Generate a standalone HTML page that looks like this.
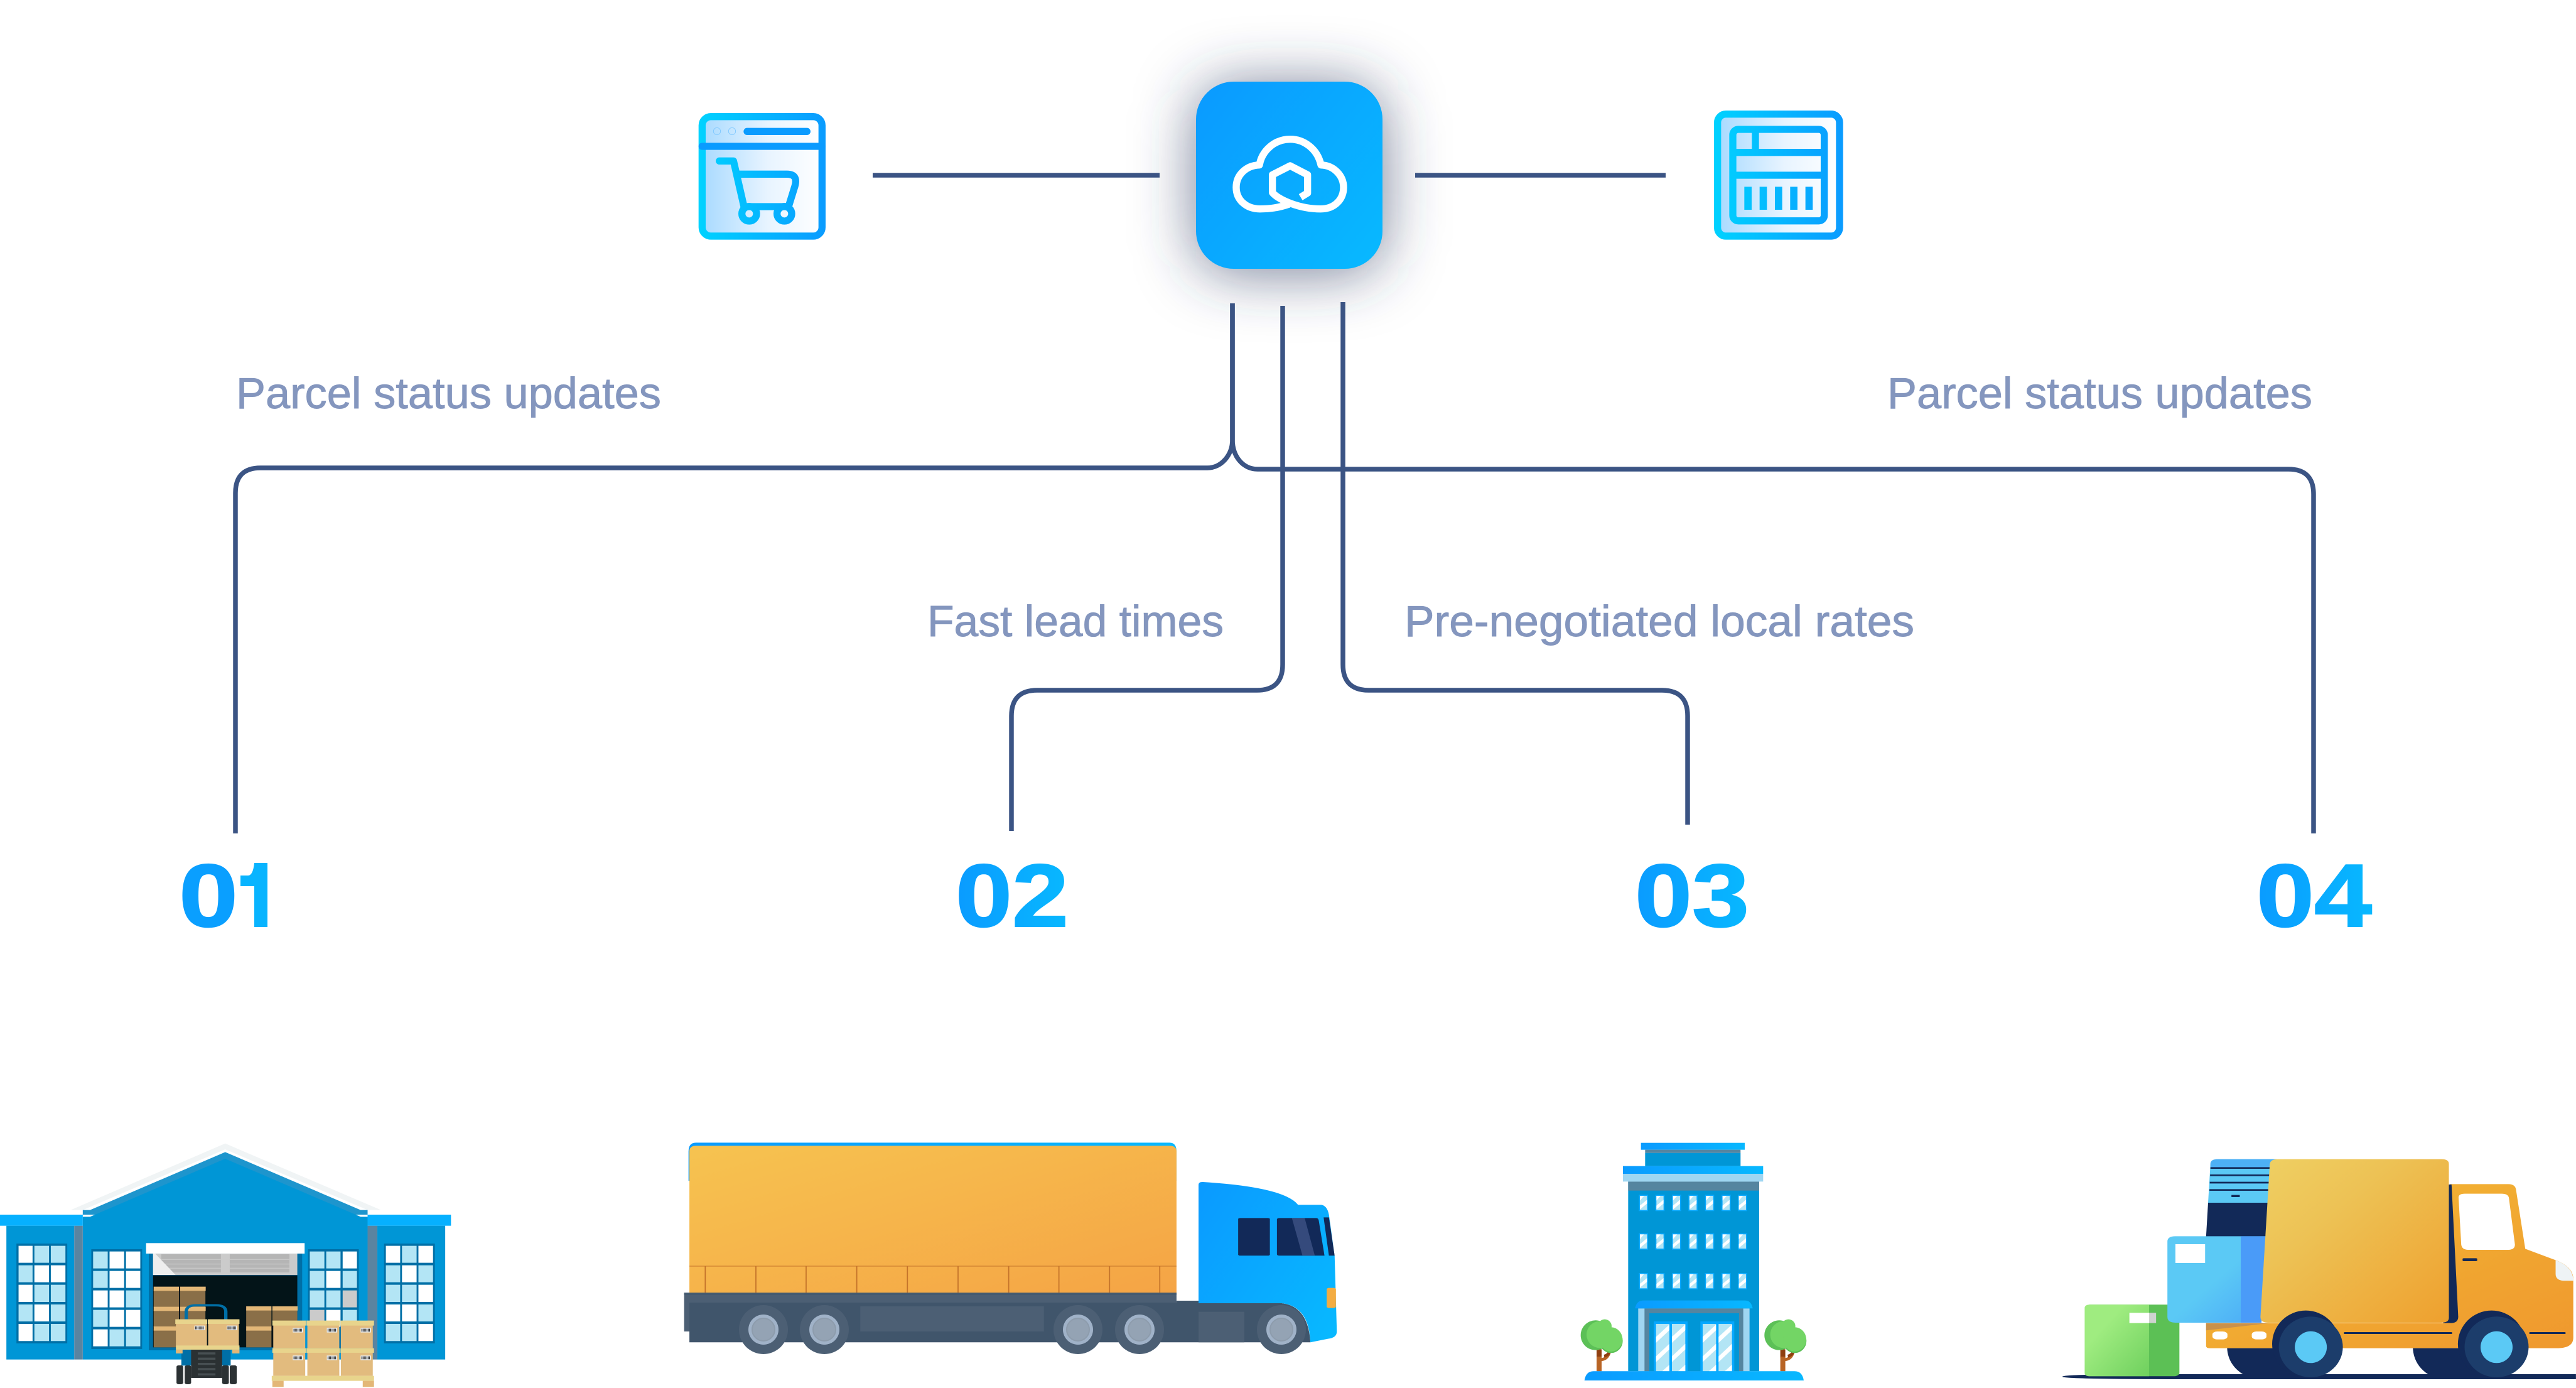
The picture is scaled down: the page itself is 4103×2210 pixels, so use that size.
<!DOCTYPE html>
<html lang="en"><head><meta charset="utf-8"><title>Parcel logistics diagram</title>
<style>
html,body{margin:0;padding:0;background:#fff;width:4103px;height:2210px;overflow:hidden}
svg{position:absolute;left:0;top:0}
text{font-family:"Liberation Sans",sans-serif}
</style></head><body>
<svg width="4103" height="2210" viewBox="0 0 4103 2210" xmlns="http://www.w3.org/2000/svg">
<defs>
<filter id="glow" filterUnits="userSpaceOnUse" x="1600" y="-200" width="900" height="950"><feGaussianBlur stdDeviation="48"/></filter>
<clipPath id="stem"><rect x="405" y="1360" width="21" height="130"/></clipPath>
<linearGradient id="bl"><stop offset="0" stop-color="#0a9bff"/><stop offset="1" stop-color="#08b8ff"/></linearGradient>
<linearGradient id="hub" x1="0" y1="0.1" x2="1" y2="0.9"><stop offset="0" stop-color="#0a9bff"/><stop offset="1" stop-color="#08b8ff"/></linearGradient>
<linearGradient id="ic1" gradientUnits="userSpaceOnUse" x1="70" y1="0" x2="675" y2="0"><stop offset="0" stop-color="#00d2ff"/><stop offset="1" stop-color="#0a9bff"/></linearGradient>
<linearGradient id="ic2" gradientUnits="userSpaceOnUse" x1="60" y1="0" x2="677" y2="0"><stop offset="0" stop-color="#00d2ff"/><stop offset="1" stop-color="#0a9bff"/></linearGradient>
<linearGradient id="icf"><stop offset="0" stop-color="#a8daff"/><stop offset=".55" stop-color="#e8f4ff"/><stop offset="1" stop-color="#fff"/></linearGradient>
<linearGradient id="cargo" x1="0" y1="0" x2="1" y2="1"><stop offset="0" stop-color="#f6c350"/><stop offset="1" stop-color="#f5a445"/></linearGradient>
<linearGradient id="vc" x1="0" y1="0" x2="1" y2="1"><stop offset="0" stop-color="#efd063"/><stop offset=".35" stop-color="#edc255"/><stop offset="1" stop-color="#eea02e"/></linearGradient>
<linearGradient id="vb" x1="0" y1="0" x2="1" y2="1"><stop offset="0" stop-color="#f3bb35"/><stop offset="1" stop-color="#ef982e"/></linearGradient>
<linearGradient id="bb" x1="0" y1="0" x2="1" y2="1"><stop offset=".5" stop-color="#5bc9f5"/><stop offset="1" stop-color="#4aa8f7"/></linearGradient>
<linearGradient id="gb" x1="0" y1="0" x2="1" y2="1"><stop offset=".3" stop-color="#9fec80"/><stop offset="1" stop-color="#6fd05e"/></linearGradient>
<g id="bw"><rect width="44" height="78" fill="#06a8ff"/><rect x="5" y="5" width="34" height="68" fill="#b3e5f5"/><polygon points="5,5 25,5 5,28" fill="#fff"/><polygon points="39,24 39,42 5,70 5,52" fill="#fff"/></g>
<g id="dp"><rect width="64" height="226" fill="#b3e5f5"/><polygon points="0,62 64,3 64,30 0,90" fill="#fff"/><polygon points="0,155 64,95 64,122 0,182" fill="#fff"/><polygon points="30,226 64,195 64,226" fill="#fff"/></g>
<g id="bc"><rect width="34" height="22" fill="#e8ecf0"/><path d="M4,4v14M8,4v14M12,4v14M17,4v14M21,4v14M25,4v14M29,4v14" stroke="#333" stroke-width="2.4"/></g>
<g id="tree"><rect x="189" y="1075" width="24" height="40" fill="#8f3f10"/><rect x="189" y="1110" width="24" height="70" fill="#b86425"/><path d="M205,1125 Q240,1125 250,1090" fill="none" stroke="#b86425" stroke-width="14"/><path d="M225,1108 Q240,1105 250,1090" fill="none" stroke="#8f3f10" stroke-width="14"/><ellipse cx="184" cy="1008" rx="71" ry="71" fill="#5cc057"/><ellipse cx="258" cy="1035" rx="56" ry="58" fill="#5cc057"/><circle cx="205" cy="1005" r="64" fill="#73d565"/><circle cx="228" cy="965" r="33" fill="#73d565"/><ellipse cx="258" cy="1028" rx="55" ry="58" fill="#73d565"/></g>
</defs>

<!-- hub -->
<rect x="1905" y="136" width="297" height="298" rx="60" fill="#323c64" fill-opacity=".66" filter="url(#glow)"/>
<rect x="1905" y="130" width="297" height="298" rx="60" fill="url(#hub)"/>
<g transform="translate(1930,190) scale(.3333)" fill="none" stroke="#fff" stroke-width="34" stroke-linejoin="round">
<path d="M425,372 L458,352 L458,265 L375,222 L290,265 L290,350 C320,385 420,428 520,428 C590,428 630,380 630,325 C630,270 585,220 522,218 C505,140 440,95 375,95 C300,95 240,150 228,218 C165,220 117,265 117,325 C117,385 165,428 230,428 C280,428 320,422 370,405"/>
</g>

<!-- connector lines -->
<g fill="none" stroke="#3b5484" stroke-width="7.5">
<path d="M1390,279H1847" />
<path d="M2254,279H2653" />
<path d="M1963,483V700C1963,725 1945,745 1923,745H415Q375,745 375,785V1327"/>
<path d="M1963,483V700C1963,727 1980,747 2003,747H3645Q3685,747 3685,787V1327"/>
<path d="M2043,487V1058Q2043,1099 2002,1099H1652Q1611,1099 1611,1140V1323"/>
<path d="M2139,481V1058Q2139,1099 2180,1099H2647Q2688,1099 2688,1140V1313"/>
</g>

<!-- labels -->
<g font-size="70" fill="#8496be" stroke="#8496be" stroke-width=".9">
<text x="376" y="650" textLength="677" lengthAdjust="spacingAndGlyphs">Parcel status updates</text>
<text x="3006" y="650" textLength="677" lengthAdjust="spacingAndGlyphs">Parcel status updates</text>
<text x="1477" y="1013" textLength="472" lengthAdjust="spacingAndGlyphs">Fast lead times</text>
<text x="2237" y="1013" textLength="812" lengthAdjust="spacingAndGlyphs">Pre-negotiated local rates</text>
</g>
<g font-size="142" font-weight="700" fill="url(#bl)" stroke="url(#bl)" stroke-width="2">
<text x="285" y="1475" fill="#0a9fff" stroke="#0a9fff" textLength="94" lengthAdjust="spacingAndGlyphs">0</text>
<text x="359" y="1475" fill="#08b8ff" stroke="#08b8ff" clip-path="url(#stem)">1</text>
<text x="1522" y="1475" textLength="180" lengthAdjust="spacingAndGlyphs">02</text>
<text x="2604" y="1475" textLength="182" lengthAdjust="spacingAndGlyphs">03</text>
<text x="3594" y="1475" textLength="184" lengthAdjust="spacingAndGlyphs">04</text>
</g>
<path d="M405,1374H426V1476H405ZM383,1394H395Q403,1394 405,1374V1411H383Z" fill="#08b4ff"/>

<!-- left icon -->
<g transform="translate(1090,160) scale(.3333)">
<rect x="85" y="77" width="573" height="571" rx="42" fill="url(#icf)" stroke="url(#ic1)" stroke-width="34"/>
<path d="M85,219H658" stroke="#0a9bff" stroke-width="34" stroke-linecap="round"/>
<path d="M300,148H586" stroke="#0a9bff" stroke-width="34" stroke-linecap="round"/>
<circle cx="156" cy="147" r="17" fill="none" stroke="#7cc7ff" stroke-width="2.5"/>
<circle cx="228" cy="147" r="17" fill="none" stroke="#7cc7ff" stroke-width="2.5"/>
<g fill="none" stroke="url(#ic1)" stroke-width="34" stroke-linecap="round" stroke-linejoin="round">
<path d="M167,289H235L285,507H498L528,410Q545,352 490,352H250"/>
<circle cx="310" cy="541" r="35"/>
<circle cx="478" cy="541" r="35"/>
</g>
</g>

<!-- right icon -->
<g transform="translate(2710,160) scale(.3333)">
<rect x="77" y="65" width="583" height="583" rx="40" fill="url(#icf)" stroke="url(#ic2)" stroke-width="34"/>
<g fill="none" stroke="url(#ic2)" stroke-width="34">
<rect x="150" y="138" width="437" height="437" rx="26"/>
<path d="M150,248H587M150,357H587M258,138V248"/>
</g>
<path d="M205,412h35v110h-35zM278,412h35v110h-35zM351,412h35v110h-35zM424,412h35v110h-35zM497,412h35v110h-35z" fill="url(#ic2)"/>
</g>

<!-- warehouse -->
<g transform="translate(0,1780) scale(.4847,.3333)">
<polygon points="232,440 740,122 1252,440" fill="#f0f4f5"/>
<polygon points="272,440 740,150 1208,440" fill="#fff"/>
<polygon points="272,462 272,440 296,440 740,163 1185,440 1208,440 1208,462" fill="#1e95cd"/>
<polygon points="272,472 296,472 740,195 1185,472 1208,472 1208,1154 272,1154" fill="#0096d6"/>
<rect x="21" y="515" width="223" height="639" fill="#0096d6"/><rect x="1240" y="515" width="223" height="639" fill="#0096d6"/>
<rect x="244" y="515" width="28" height="639" fill="#5a84a0"/><rect x="1208" y="515" width="32" height="639" fill="#5a84a0"/>
<rect x="0" y="462" width="272" height="53" fill="#06b0ff"/><rect x="1208" y="462" width="274" height="53" fill="#06b0ff"/>
<!-- window frames -->
<g fill="#006fa6"><rect x="54" y="600" width="167" height="477"/><rect x="300" y="627" width="167" height="477"/><rect x="1012" y="627" width="167" height="477"/><rect x="1262" y="600" width="167" height="477"/></g>
<!-- panes: white -->
<g fill="#fff">
<path d="M61,611h46v81h-46zM113,704h48v81h-48zM167,704h48v81h-48zM61,797h46v82h-46zM113,891h48v81h-48zM61,984h46v82h-46z"/>
<path d="M360,638h48v81h-48zM414,638h47v81h-47zM360,731h48v81h-48zM414,731h47v81h-47zM306,824h48v81h-48zM360,824h48v81h-48zM360,917h48v81h-48zM414,917h47v81h-47zM306,1010h48v81h-48z"/>
<path d="M1126,638h47v81h-47zM1072,731h47v81h-47zM1072,917h47v81h-47z"/>
<path d="M1268,611h47v81h-47zM1375,611h48v81h-48zM1321,704h48v81h-48zM1375,797h48v82h-48zM1268,891h47v81h-47zM1321,891h48v81h-48zM1375,984h48v82h-48z"/>
</g>
<g fill="#b3e5f5">
<path d="M113,611h48v81h-48zM167,611h48v81h-48zM61,704h46v81h-46zM113,797h48v82h-48zM167,797h48v82h-48zM61,891h46v81h-46zM167,891h48v81h-48zM113,984h48v82h-48zM167,984h48v82h-48z"/>
<path d="M306,638h48v81h-48zM306,731h48v81h-48zM414,824h47v81h-47zM306,917h48v81h-48zM360,1010h48v81h-48zM414,1010h47v81h-47z"/>
<path d="M1018,638h48v81h-48zM1072,638h47v81h-47zM1018,731h48v81h-48zM1126,731h47v81h-47zM1018,824h48v81h-48zM1072,824h47v81h-47zM1126,917h47v81h-47z"/>
<path d="M1321,611h48v81h-48zM1268,704h47v81h-47zM1375,704h48v81h-48zM1268,797h47v82h-47zM1321,797h48v82h-48zM1375,891h48v81h-48zM1268,984h47v82h-47zM1321,984h48v82h-48z"/>
</g>
<path d="M1126,824h47v81h-47zM1018,917h48v81h-48z" fill="#cbcbcb"/>
<!-- door -->
<rect x="489" y="640" width="504" height="470" fill="#006fa6"/>
<rect x="503" y="752" width="474" height="344" fill="#031418"/>
<rect x="503" y="648" width="474" height="102" fill="#cbcbcb"/>
<path d="M530,651h196v87h-196zM755,651h196v87h-196z" fill="#b5b5b5"/>
<path d="M530,676h196M530,698h196M530,718h196M755,676h196M755,698h196M755,718h196" stroke="#c8c8c8" stroke-width="4"/>
<polygon points="503,648 510,648 577,750 503,750" fill="#eeeeee"/>
<rect x="480" y="598" width="521" height="50" fill="#fff"/>
<!-- boxes in door -->
<g fill="#8a6f48"><rect x="505" y="820" width="83" height="84"/><rect x="592" y="820" width="83" height="84"/><rect x="505" y="916" width="83" height="84"/><rect x="592" y="916" width="83" height="50"/><rect x="505" y="1010" width="83" height="86"/><rect x="809" y="915" width="83" height="84"/><rect x="895" y="915" width="82" height="60"/><rect x="809" y="1010" width="83" height="86"/></g>
<g fill="#e3b777"><rect x="505" y="806" width="83" height="20"/><rect x="592" y="806" width="84" height="20"/><rect x="505" y="902" width="83" height="20"/><rect x="592" y="902" width="84" height="20"/><rect x="505" y="996" width="83" height="20"/><rect x="809" y="900" width="83" height="20"/><rect x="895" y="900" width="83" height="20"/><rect x="809" y="996" width="83" height="20"/></g>
<!-- forklift -->
<path d="M612,965V925Q612,895 645,895H710Q742,895 742,925V965" fill="none" stroke="#006fa6" stroke-width="11"/>
<rect x="596" y="1105" width="162" height="78" fill="#006fa6"/>
<g fill="#2b3133"><rect x="628" y="1107" width="102" height="135"/><rect x="580" y="1182" width="22" height="90" rx="7"/><rect x="607" y="1182" width="21" height="90" rx="7"/><rect x="730" y="1182" width="22" height="90" rx="7"/><rect x="755" y="1182" width="23" height="90" rx="7"/></g>
<path d="M650,1125h58M650,1150h58M650,1175h58M650,1200h58M650,1225h58" stroke="#474f52" stroke-width="10"/>
<g fill="#e2bb7e"><rect x="578" y="962" width="102" height="126"/><rect x="684" y="962" width="101" height="126"/></g>
<g fill="#e8d48c"><rect x="576" y="962" width="105" height="22"/><rect x="683" y="962" width="104" height="22"/><rect x="578" y="1087" width="209" height="20"/></g>
<path d="M578,1107h22v18h-22zM763,1107h24v18h-24z" fill="#e3b777"/>
<use href="#bc" transform="translate(639,992)"/><use href="#bc" transform="translate(745,992)"/>
<!-- pallet -->
<g fill="#e2bb7e"><rect x="898" y="985" width="105" height="115"/><rect x="1010" y="985" width="105" height="115"/><rect x="1120" y="985" width="105" height="115"/><rect x="898" y="1115" width="105" height="117"/><rect x="1010" y="1115" width="105" height="117"/><rect x="1120" y="1115" width="105" height="117"/></g>
<g fill="#e8d48c"><rect x="895" y="968" width="110" height="24"/><rect x="1007" y="968" width="110" height="24"/><rect x="1119" y="968" width="110" height="24"/><rect x="895" y="1100" width="110" height="22"/><rect x="1007" y="1100" width="110" height="22"/><rect x="1119" y="1100" width="110" height="22"/><rect x="893" y="1232" width="336" height="24"/></g>
<path d="M895,1256h37v29h-37zM1192,1256h37v29h-37z" fill="#e3b777"/>
<use href="#bc" transform="translate(962,1003)"/><use href="#bc" transform="translate(1074,1003)"/><use href="#bc" transform="translate(1185,1003)"/><use href="#bc" transform="translate(962,1135)"/><use href="#bc" transform="translate(1074,1135)"/><use href="#bc" transform="translate(1185,1135)"/>
</g>

<!-- truck -->
<g transform="translate(1070,1780) scale(.7015,.3333)">
<path d="M38,160Q38,118 55,118H1130Q1146,118 1146,160V300H38Z" fill="url(#bl)"/>
<path d="M40,160Q40,133 55,133H1130Q1146,133 1146,160V836H40Z" fill="url(#cargo)"/>
<path d="M40,708H1146" stroke="#c4732a" stroke-width="3"/>
<path d="M76,708V835M191,708V835M305,708V835M420,708V835M535,708V835M650,708V835M765,708V835M879,708V835M994,708V835M1108,708V835" stroke="#c4732a" stroke-width="2.5"/>
<rect x="28" y="835" width="1118" height="185" fill="#4c5f74"/>
<rect x="28" y="835" width="1118" height="11" fill="#445a70"/>
<path d="M40,882H1146V873H1200V885H1385Q1445,900 1450,1072H40Z" fill="#40556b"/>
<rect x="428" y="900" width="417" height="120" fill="#4c5f74"/>
<rect x="1196" y="926" width="104" height="146" fill="#4c5f74"/>
<path d="M1196,320Q1196,305 1206,306Q1390,330 1422,415H1475Q1490,420 1493,475L1505,660L1510,1020Q1510,1050 1490,1055L1450,1072Q1447,900 1385,885H1196Z" fill="url(#hub)"/>
<rect x="1286" y="478" width="72" height="180" rx="5" fill="#122958"/>
<path d="M1380,478H1463Q1468,478 1469,490L1482,658H1380Q1374,658 1374,650V485Q1374,478 1380,478Z" fill="#122958"/>
<polygon points="1408,478 1437,478 1460,658 1432,658" fill="#354a7c"/>
<polygon points="1480,475 1492,475 1505,658 1492,658" fill="#122958"/>
<rect x="1487" y="812" width="21" height="96" rx="6" fill="#f3ac42"/>
</g>
<g>
<!-- truck wheels in real coords -->
<g transform="translate(1216,2117)"><circle r="39" fill="#4c5f74"/><circle r="24" fill="#a0b2c8"/><circle r="18" fill="#94a3b4" stroke="#8d9cac" stroke-width="2"/></g>
<g transform="translate(1313,2117)"><circle r="39" fill="#4c5f74"/><circle r="24" fill="#a0b2c8"/><circle r="18" fill="#94a3b4" stroke="#8d9cac" stroke-width="2"/></g>
<g transform="translate(1717,2117)"><circle r="39" fill="#4c5f74"/><circle r="24" fill="#a0b2c8"/><circle r="18" fill="#94a3b4" stroke="#8d9cac" stroke-width="2"/></g>
<g transform="translate(1815,2117)"><circle r="39" fill="#4c5f74"/><circle r="24" fill="#a0b2c8"/><circle r="18" fill="#94a3b4" stroke="#8d9cac" stroke-width="2"/></g>
<g transform="translate(2041,2117)"><circle r="39" fill="#4c5f74"/><circle r="24" fill="#a0b2c8"/><circle r="18" fill="#94a3b4" stroke="#8d9cac" stroke-width="2"/></g>
</g>

<!-- building -->
<g transform="translate(2480,1790) scale(.3333)">
<rect x="401" y="89" width="496" height="33" fill="url(#bl)"/>
<rect x="421" y="137" width="456" height="63" fill="#0096d6"/><rect x="421" y="122" width="456" height="15" fill="#5585a0"/>
<use href="#tree"/><use href="#tree" transform="translate(878,0)"/>
<rect x="340" y="274" width="626" height="906" fill="#0096d6"/><rect x="340" y="274" width="626" height="43" fill="#5585a0"/>
<rect x="315" y="200" width="670" height="37" fill="url(#bl)"/><rect x="315" y="237" width="670" height="37" fill="#9fd6f2"/>
<use href="#bw" x="391" y="337"/><use href="#bw" x="470" y="337"/><use href="#bw" x="549" y="337"/><use href="#bw" x="628" y="337"/><use href="#bw" x="707" y="337"/><use href="#bw" x="786" y="337"/><use href="#bw" x="864" y="337"/>
<use href="#bw" x="391" y="521"/><use href="#bw" x="470" y="521"/><use href="#bw" x="549" y="521"/><use href="#bw" x="628" y="521"/><use href="#bw" x="707" y="521"/><use href="#bw" x="786" y="521"/><use href="#bw" x="864" y="521"/>
<use href="#bw" x="391" y="711"/><use href="#bw" x="470" y="711"/><use href="#bw" x="549" y="711"/><use href="#bw" x="628" y="711"/><use href="#bw" x="707" y="711"/><use href="#bw" x="786" y="711"/><use href="#bw" x="864" y="711"/>
<rect x="388" y="880" width="532" height="300" fill="#9fd6f2"/>
<rect x="418" y="880" width="472" height="300" fill="#5585a0"/>
<rect x="441" y="903" width="429" height="277" fill="#0096d6"/>
<rect x="462" y="942" width="162" height="238" fill="#06a8ff"/><rect x="685" y="942" width="162" height="238" fill="#06a8ff"/>
<use href="#dp" x="473" y="954"/><use href="#dp" x="549" y="954"/><use href="#dp" x="696" y="954"/><use href="#dp" x="772" y="954"/>
<path d="M373,880Q380,842 412,842H898Q928,842 935,880Z" fill="url(#bl)"/>
<path d="M131,1224Q138,1180 175,1180H1135Q1172,1180 1179,1224Z" fill="url(#bl)"/>
</g>

<!-- van -->
<g transform="translate(3270,1810) scale(.5312,.3333)">
<path d="M28,1146Q28,1132 400,1134H1568V1158H400Q28,1158 28,1146Z" fill="#122958"/>
<path d="M472,130Q472,107 495,107H670L645,315H465Z" fill="#5bc9f5"/>
<path d="M472,145V130Q472,107 495,107H670L665,145Z" fill="#4db0f5"/>
<path d="M472,145h180v8h-180zM471,180h180v8h-180zM470,215h180v8h-180zM469,250h180v8h-180zM535,278h25v10h-25z" fill="#122958"/>
<polygon points="465,315 650,315 640,476 459,476" fill="#122958"/>
<rect x="95" y="802" width="284" height="342" rx="16" fill="#5cc055"/>
<path d="M288,802H111Q95,802 95,818V1128Q95,1144 111,1144H288Z" fill="url(#gb)"/>
<rect x="229" y="841" width="59" height="49" fill="#fff"/><rect x="288" y="841" width="21" height="49" fill="#cfd3cf"/>
<path d="M1190,226H1365Q1385,226 1388,250L1416,535L1505,588Q1560,620 1560,680V960Q1560,1010 1510,1010H470Q459,1010 459,1000V890H1190Z" fill="url(#vb)"/>
<path d="M1216,290Q1216,272 1235,272H1345Q1365,272 1367,292L1385,515Q1385,540 1365,540H1245Q1226,540 1224,515Z" fill="#fff"/>
<rect x="1228" y="580" width="44" height="14" rx="4" fill="#122958"/>
<path d="M1507,590Q1560,620 1560,688H1535Q1507,688 1507,655Z" fill="#eef3f5"/>
<path d="M1187,228H1195L1215,860Q1215,888 1195,890H1170Z" fill="#122958"/>
<polygon points="459,890 650,890 459,925" fill="#c9914a"/>
<rect x="478" y="930" width="45" height="38" rx="14" fill="#fff"/><rect x="596" y="930" width="44" height="38" rx="14" fill="#fff"/>
<rect x="872" y="933" width="325" height="9" rx="3" fill="#122958"/><rect x="1428" y="933" width="109" height="9" rx="3" fill="#122958"/>
<path d="M367,475H640L620,888H367Q343,888 343,860V500Q343,475 367,475Z" fill="url(#bb)"/>
<polygon points="563,475 640,475 625,888 563,888" fill="#4a9bf8"/>
<rect x="367" y="513" width="89" height="90" fill="#fff"/>
<path d="M650,130Q652,107 675,107H1165Q1187,107 1187,130V865Q1187,888 1164,888H645Q622,888 622,860Z" fill="url(#vc)"/>
<path d="M522,1010Q525,1090 570,1135H760V1010ZM1079,1010Q1082,1090 1125,1135H1320V1010Z" fill="#122958"/>
<ellipse cx="758" cy="990" rx="101" ry="160" fill="#122958"/><ellipse cx="1315" cy="990" rx="101" ry="160" fill="#122958"/>
<ellipse cx="773" cy="1004" rx="96" ry="145" fill="#1c3d6b"/><ellipse cx="1330" cy="1004" rx="96" ry="145" fill="#1c3d6b"/>
<ellipse cx="773" cy="1005" rx="48" ry="76" fill="#5bc9f5"/><ellipse cx="1330" cy="1005" rx="48" ry="76" fill="#5bc9f5"/>
</g>
</svg>
</body></html>
